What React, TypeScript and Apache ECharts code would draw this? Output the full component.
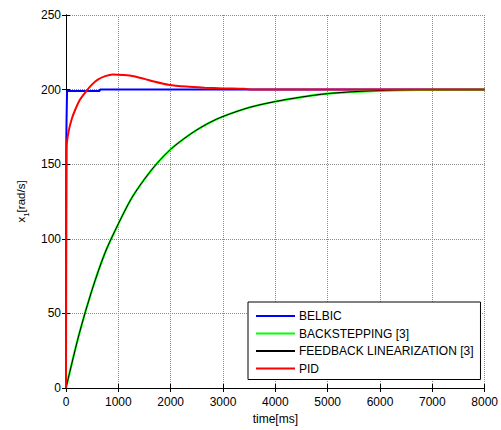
import React, { useEffect, useRef } from "react";
import * as echarts from "echarts";

const seriesNames = ["BELBIC", "BACKSTEPPING [3]", "FEEDBACK LINEARIZATION [3]", "PID"];

const belbicT = [0, 3, 6, 10, 20, 640, 650, 8000];
const belbicV = [0, 120, 165, 178, 199, 199, 200, 200];

const backT = [0, 250, 500, 750, 1000, 1250, 1500, 1750, 2000, 2250, 2500, 2750, 3000, 3500, 4000, 4500, 5000, 5500, 6000, 6500, 7000, 8000];
const backV = [0, 36, 66, 91, 110, 127, 140, 151, 160, 167, 173, 178, 182, 188, 192, 195, 197.3, 198.5, 199.2, 199.6, 199.8, 200];

const fblT = [0, 250, 500, 750, 1000, 1250, 1500, 1750, 2000, 2250, 2500, 2750, 3000, 3500, 4000, 4500, 5000, 5500, 6000, 6500, 7000, 8000];
const fblV = [0, 36, 66, 91, 110, 127, 140, 151, 160, 167, 173, 178, 182, 188, 192, 195, 197.3, 198.6, 199.4, 199.9, 200, 200];

const pidT = [0, 2, 8, 13, 50, 107, 170, 263, 388, 500, 608, 750, 890, 1100, 1297, 1500, 1700, 1955, 2300, 2650, 3000, 3400, 3600, 8000];
const pidV = [0, 80, 150, 163, 172, 180, 186, 193, 199, 203.5, 206.7, 209, 210.2, 209.8, 209, 207.2, 205.3, 203.3, 202, 201.3, 200.8, 200.5, 200, 200];

const xTicks = { min: 0, max: 8000, interval: 1000 };
const yTicks = { min: 0, max: 250, interval: 50 };

const pair = (t: number[], v: number[]) => t.map((x, i) => [x, v[i]]);

const FONT = "Liberation Sans, Arial, sans-serif";

export default function App() {
  const ref = useRef<HTMLDivElement>(null);
  useEffect(() => {
    const chart = echarts.init(ref.current!, null, { renderer: "svg" });
    const axisLine = { show: true, lineStyle: { color: "#000", width: 1 } };
    const tick = { show: true, inside: true, length: 4, lineStyle: { color: "#000" } };
    const grid = { show: true, lineStyle: { color: "#8a8a8a", type: "dotted" as const, width: 1 } };
    chart.setOption({
      animation: false,
      backgroundColor: "#fff",
      grid: { left: 66, right: 10, top: 15, bottom: 40, containLabel: false },
      xAxis: [
        {
          type: "value",
          ...xTicks,
          position: "bottom",
          axisLine,
          axisTick: tick,
          splitLine: grid,
          axisLabel: { color: "#000", fontSize: 12, fontFamily: FONT, margin: 8, formatter: (v: number) => String(v) },
          name: "time[ms]",
          nameLocation: "middle",
          nameGap: 25,
          nameTextStyle: { color: "#000", fontSize: 12, fontFamily: FONT },
        },
        {
          type: "value",
          ...xTicks,
          position: "top",
          axisLine,
          axisTick: tick,
          splitLine: { show: false },
          axisLabel: { show: false },
        },
      ],
      yAxis: [
        {
          type: "value",
          ...yTicks,
          position: "left",
          axisLine,
          axisTick: tick,
          splitLine: grid,
          axisLabel: { color: "#000", fontSize: 12, fontFamily: FONT, margin: 5, formatter: (v: number) => String(v) },
          name: "{a|x}{b|1}{a|[rad/s]}",
          nameLocation: "middle",
          nameRotate: 90,
          nameGap: 38,
          nameTextStyle: {
            color: "#000",
            fontSize: 11,
            fontFamily: FONT,
            rich: {
              a: { fontSize: 11.5, fontFamily: FONT, color: "#000", lineHeight: 14, verticalAlign: "bottom" },
              b: { fontSize: 8, fontFamily: FONT, color: "#000", lineHeight: 14, verticalAlign: "bottom", padding: [0, 0, -3, 0] },
            },
          },
        },
        {
          type: "value",
          ...yTicks,
          position: "right",
          axisLine,
          axisTick: tick,
          splitLine: { show: false },
          axisLabel: { show: false },
        },
      ],
      legend: {
        orient: "vertical",
        left: 248,
        top: 302,
        padding: [8, 7, 5, 7],
        itemGap: 5.5,
        itemWidth: 39,
        itemHeight: 14,
        backgroundColor: "#fff",
        borderColor: "#000",
        borderWidth: 1,
        borderRadius: 0,
        itemStyle: { opacity: 0 },
        textStyle: { color: "#000", fontSize: 12, fontFamily: FONT, padding: [0, 0, 0, -1] },
        data: seriesNames,
      },
      series: [
        { name: seriesNames[0], type: "line", symbol: "none", data: pair(belbicT, belbicV), lineStyle: { color: "#0000ff", width: 2 }, itemStyle: { color: "#0000ff" } },
        { name: seriesNames[1], type: "line", symbol: "none", data: pair(backT, backV), smooth: 0.3, lineStyle: { color: "#00ff00", width: 2.2 }, itemStyle: { color: "#00ff00" } },
        { name: seriesNames[2], type: "line", symbol: "none", data: pair(fblT, fblV), smooth: 0.3, lineStyle: { color: "#000000", width: 1 }, itemStyle: { color: "#000000" } },
        { name: seriesNames[3], type: "line", symbol: "none", data: pair(pidT, pidV), smooth: 0.2, lineStyle: { color: "#ff0000", width: 2 }, itemStyle: { color: "#ff0000" } },
      ],
    });
    return () => chart.dispose();
  }, []);
  return <div ref={ref} style={{ width: 501, height: 430, position: "absolute", left: 0, top: 0 }} />;
}
